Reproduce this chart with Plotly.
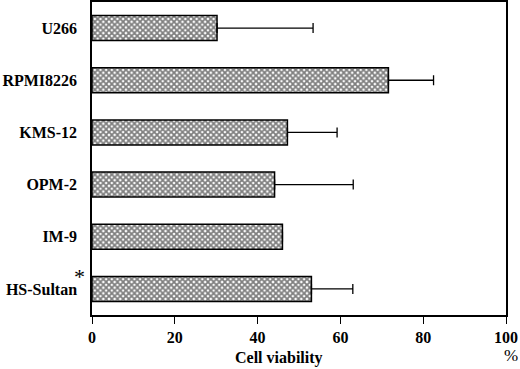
import plotly.graph_objects as go

categories = ["U266", "RPMI8226", "KMS-12", "OPM-2", "IM-9", "HS-Sultan"]
viability = [30.2, 71.6, 47.2, 44.1, 46.0, 53.0]
err_plus = [23.2, 10.9, 12.0, 19.0, 0.0, 10.0]
x_ticks = [0, 20, 40, 60, 80, 100]

font_fam = "Liberation Serif"

fig = go.Figure()
fig.add_trace(go.Bar(
    x=viability, y=categories, orientation="h",
    width=0.48,
    marker=dict(
        color="white",
        line=dict(color="black", width=1.5),
        pattern=dict(shape="x", fgcolor="black", bgcolor="white", size=4, solidity=0.7),
    ),
    error_x=dict(type="data", symmetric=False, array=err_plus, arrayminus=[0]*6,
                 color="black", thickness=1.3, width=5),
))

fig.update_yaxes(
    categoryorder="array", categoryarray=categories[::-1],
    range=[-0.5, 5.5], showline=True, linecolor="black", linewidth=1.5,
    mirror=True, ticks="", showgrid=False, automargin=False,
    tickfont=dict(family=font_fam, size=16, color="black", weight="bold"),
    ticklabelstandoff=10,
)
fig.update_xaxes(
    range=[0, 100], tickvals=x_ticks, ticktext=[str(t) for t in x_ticks],
    showline=True, linecolor="black", linewidth=1.5, mirror=True,
    ticks="outside", ticklen=7, tickwidth=1.2, tickcolor="black", showgrid=False,
    zeroline=False, automargin=False,
    tickfont=dict(family=font_fam, size=16, color="black", weight="bold"),
)

fig.add_annotation(text="Cell viability", xref="paper", yref="paper", x=0.452, y=-0.136,
                   showarrow=False, font=dict(family=font_fam, size=16, color="black", weight="bold"),
                   xanchor="center", yanchor="middle")
fig.add_annotation(text="%", xref="paper", yref="paper", x=1.012, y=-0.128,
                   showarrow=False, font=dict(family=font_fam, size=17, color="black"),
                   xanchor="center", yanchor="middle")
fig.add_annotation(text="*", xref="paper", yref="y", x=-0.03, y="HS-Sultan", yshift=12,
                   showarrow=False, font=dict(family=font_fam, size=22, color="black"),
                   xanchor="center", yanchor="middle")

fig.update_layout(
    width=520, height=369,
    margin=dict(l=92, r=14, t=2, b=54, autoexpand=False),
    plot_bgcolor="white", paper_bgcolor="white",
    showlegend=False,
)

fig.write_html("out.html", config={"displayModeBar": False},
               post_script="document.body.style.margin='0';document.body.style.overflow='hidden';")
